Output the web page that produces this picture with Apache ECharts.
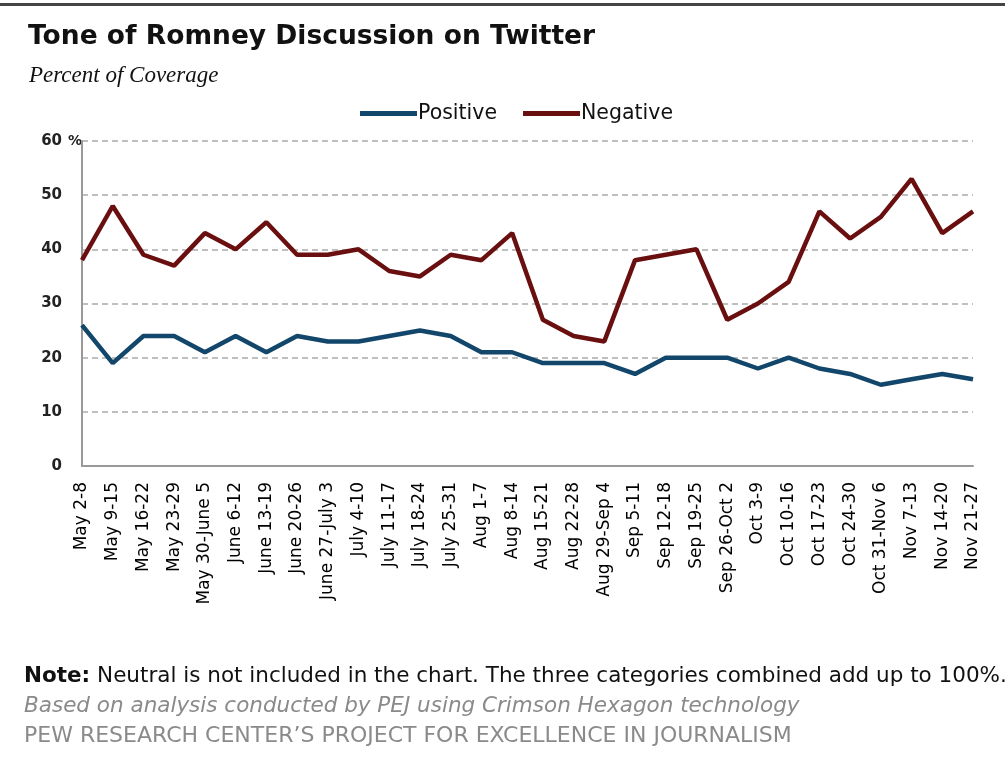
<!DOCTYPE html>
<html>
<head>
<meta charset="utf-8">
<script src="https://cdn.jsdelivr.net/npm/echarts@6/dist/echarts.min.js"></script>
<style>
  html, body { margin: 0; padding: 0; background: #fff; }
  #chart { width: 1005px; height: 759px; }
</style>
</head>
<body>
<div id="chart"></div>
<script>
// Weekly periods, May 2 – Nov 27
const weeks = [
  'May 2-8', 'May 9-15', 'May 16-22', 'May 23-29', 'May 30-June 5',
  'June 6-12', 'June 13-19', 'June 20-26', 'June 27-July 3', 'July 4-10',
  'July 11-17', 'July 18-24', 'July 25-31', 'Aug 1-7', 'Aug 8-14',
  'Aug 15-21', 'Aug 22-28', 'Aug 29-Sep 4', 'Sep 5-11', 'Sep 12-18',
  'Sep 19-25', 'Sep 26-Oct 2', 'Oct 3-9', 'Oct 10-16', 'Oct 17-23',
  'Oct 24-30', 'Oct 31-Nov 6', 'Nov 7-13', 'Nov 14-20', 'Nov 21-27'
];

// Percent of coverage
const positive = [26, 19, 24, 24, 21, 24, 21, 24, 23, 23, 24, 25, 24, 21, 21,
                  19, 19, 19, 17, 20, 20, 20, 18, 20, 18, 17, 15, 16, 17, 16];
const negative = [38, 48, 39, 37, 43, 40, 45, 39, 39, 40, 36, 35, 39, 38, 43,
                  27, 24, 23, 38, 39, 40, 27, 30, 34, 47, 42, 46, 53, 43, 47];

const yTicks = [0, 10, 20, 30, 40, 50, 60];

const chart = echarts.init(document.getElementById('chart'), null, { renderer: 'canvas' });

chart.setOption({
  backgroundColor: '#ffffff',
  animation: false,
  title: [
    {
      text: 'Tone of Romney Discussion on Twitter',
      left: 23, top: 19,
      textStyle: { fontFamily: 'DejaVu Sans', fontWeight: 'bold', fontSize: 26.5, color: '#111' }
    },
    {
      text: 'Percent of Coverage',
      left: 24, top: 59,
      textStyle: { fontFamily: 'Liberation Serif', fontStyle: 'italic', fontWeight: 'normal', fontSize: 23, color: '#111' }
    }
  ],
  legend: {
    top: 98,
    left: 355,
    itemWidth: 57,
    itemHeight: 5,
    itemGap: 26,
    icon: 'rect',
    textStyle: { fontFamily: 'DejaVu Sans', fontSize: 20.5, color: '#111', padding: [0, 0, 0, -4] },
    data: ['Positive', 'Negative']
  },
  grid: { left: 82, right: 32, top: 141, bottom: 293, containLabel: false },
  xAxis: {
    type: 'category',
    data: weeks,
    boundaryGap: false,
    axisLine: { show: true, lineStyle: { color: '#999', width: 2 } },
    axisTick: { show: false },
    axisLabel: {
      interval: 0,
      rotate: 90,
      margin: 16,
      fontFamily: 'DejaVu Sans',
      fontSize: 17,
      color: '#000'
    },
    splitLine: { show: false }
  },
  yAxis: {
    type: 'value',
    min: yTicks[0],
    max: yTicks[yTicks.length - 1],
    interval: 10,
    axisLine: { show: true, lineStyle: { color: '#999', width: 2 } },
    axisTick: { show: false },
    axisLabel: {
      margin: 20,
      fontFamily: 'DejaVu Sans',
      fontWeight: 'bold',
      fontSize: 15,
      color: '#222'
    },
    splitLine: { show: true, lineStyle: { color: '#aaa', type: [6, 4], width: 1.5 } }
  },
  series: [
    {
      name: 'Positive',
      type: 'line',
      data: positive,
      symbol: 'none',
      lineStyle: { color: '#12476b', width: 4.5 },
      itemStyle: { color: '#12476b' }
    },
    {
      name: 'Negative',
      type: 'line',
      data: negative,
      symbol: 'none',
      lineStyle: { color: '#6a0f10', width: 4.5 },
      itemStyle: { color: '#6a0f10' }
    }
  ],
  graphic: [
    {
      type: 'rect',
      shape: { x: 0, y: 3, width: 1005, height: 3 },
      style: { fill: '#444' }
    },
    {
      type: 'text',
      x: 68, y: 134,
      style: { text: '%', fontFamily: 'DejaVu Sans', fontWeight: 'bold', fontSize: 14, fill: '#222' }
    },
    {
      type: 'text',
      x: 24, y: 665,
      style: {
        text: '{b|Note:} Neutral is not included in the chart. The three categories combined add up to 100%.',
        rich: {
          b: { fontFamily: 'DejaVu Sans', fontWeight: 'bold', fontSize: 21.5, fill: '#111' }
        },
        fontFamily: 'DejaVu Sans', fontSize: 21.5, fill: '#111'
      }
    },
    {
      type: 'text',
      x: 24, y: 695,
      style: {
        text: 'Based on analysis conducted by PEJ using Crimson Hexagon technology',
        fontFamily: 'DejaVu Sans', fontStyle: 'italic', fontSize: 21.5, fill: '#8a8a8a'
      }
    },
    {
      type: 'text',
      x: 24, y: 725,
      style: {
        text: 'PEW RESEARCH CENTER\u2019S PROJECT FOR EXCELLENCE IN JOURNALISM',
        fontFamily: 'DejaVu Sans', fontSize: 22, fill: '#8a8a8a'
      }
    }
  ]
});
</script>
</body>
</html>
